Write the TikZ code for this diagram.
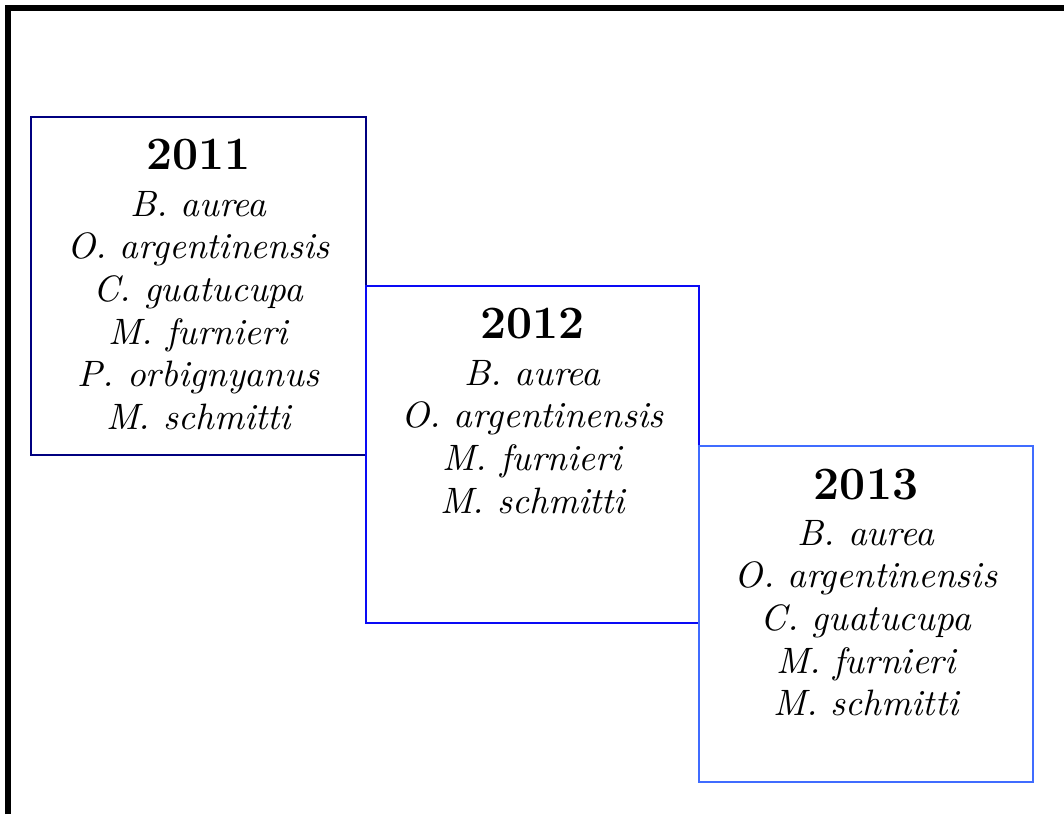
\documentclass[tikz,border=0pt]{standalone}
\usepackage{tikz}
\usepackage{xcolor}
\definecolor{boxnavy}{RGB}{0,0,128}
\definecolor{boxblue}{RGB}{10,10,245}
\definecolor{boxsky}{RGB}{64,108,255}

\begin{document}
\begin{tikzpicture}[x=0.2805pt,y=-0.2805pt,
  yr/.style={font=\fontsize{13}{15}\selectfont\bfseries,anchor=base},
  sp/.style={font=\fontsize{10.3}{12}\selectfont\itshape,anchor=base}]
\useasboundingbox (0,0) rectangle (1064,814);
\draw[line width=1.7pt] (8,814)--(8,8)--(1064,8);
\draw[boxnavy,line width=0.55pt] (31,117) rectangle (366,455);
\draw[boxblue,line width=0.55pt] (366,286) rectangle (699,623);
\draw[boxsky,line width=0.55pt] (699,446) rectangle (1033,782);
\node[yr] (y11) at (198.5,169) {2011};
\foreach \s [count=\i from 0] in {B. aurea,O. argentinensis,C. guatucupa,M. furnieri,P. orbignyanus,M. schmitti}
  \node[sp] (a\i) at (198.5,{216+42.7*\i}) {\s};
\node[yr] (y12) at (532.5,338) {2012};
\foreach \s [count=\i from 0] in {B. aurea,O. argentinensis,M. furnieri,M. schmitti}
  \node[sp] (b\i) at (532.5,{385+42.7*\i}) {\s};
\node[yr] (y13) at (866,499) {2013};
\foreach \s [count=\i from 0] in {B. aurea,O. argentinensis,C. guatucupa,M. furnieri,M. schmitti}
  \node[sp] (c\i) at (866,{545+42.7*\i}) {\s};
\end{tikzpicture}
\end{document}
